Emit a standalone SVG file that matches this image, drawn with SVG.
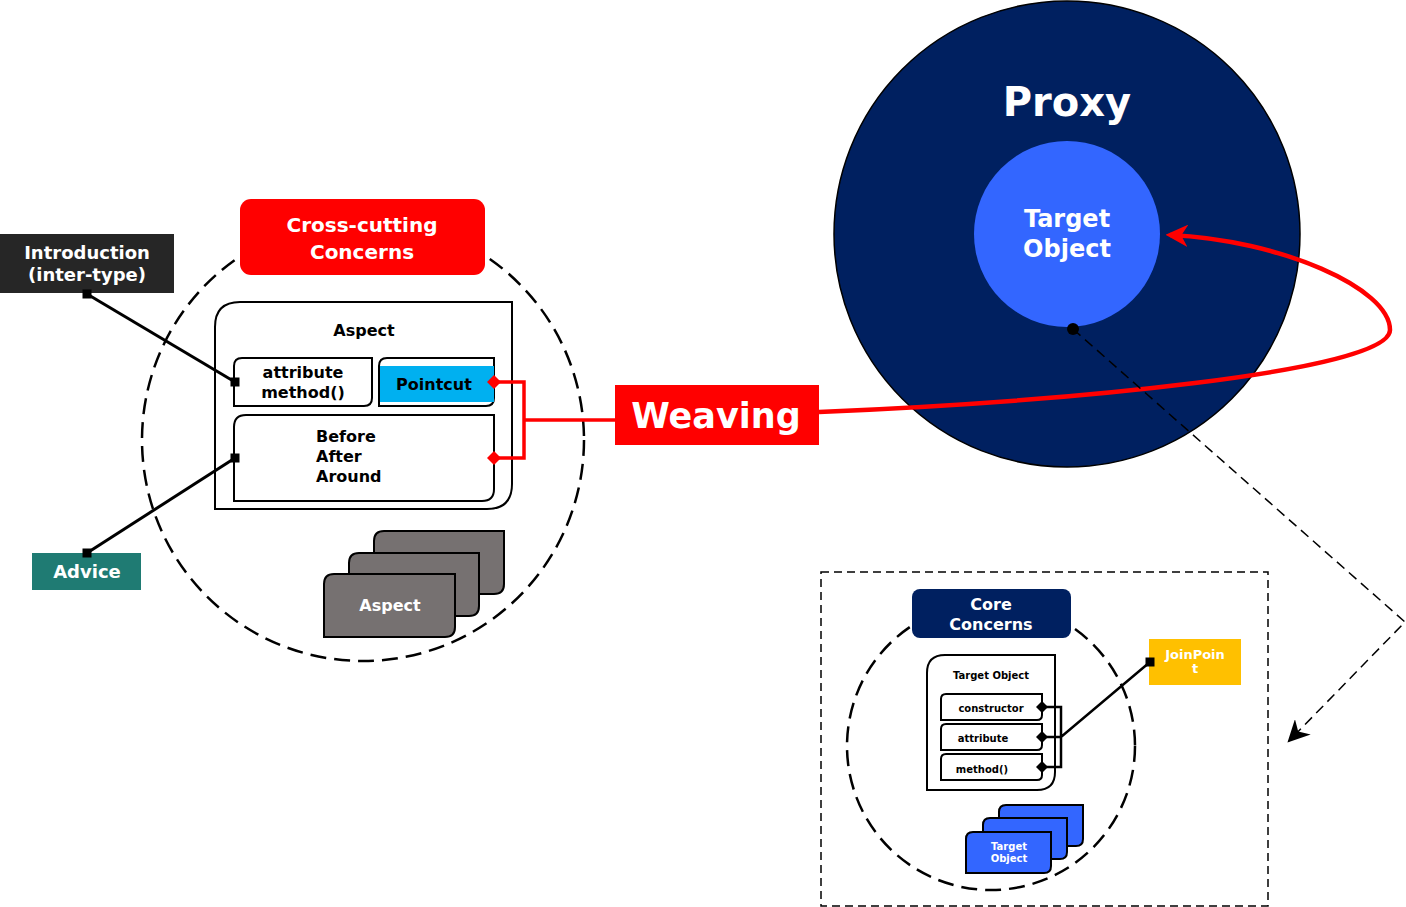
<svg xmlns="http://www.w3.org/2000/svg" width="1406" height="907" viewBox="0 0 1406 907">
<style>
text{font-family:"DejaVu Sans","Liberation Sans",sans-serif;font-weight:bold;text-anchor:middle}
.w{fill:#fff}
.k{fill:#000}
.box{fill:#fff;stroke:#000;stroke-width:2}
.dc{fill:none;stroke:#000;stroke-width:2.5;stroke-dasharray:16 8}
.ln{stroke:#000;stroke-width:3;fill:none}
.red{stroke:#f00;stroke-width:3.5;fill:none}
.grey{fill:#767171;stroke:#000;stroke-width:2}
.blue{fill:#3366ff;stroke:#000;stroke-width:2}
</style>
<defs>
<marker id="ra" viewBox="0 0 10 10" refX="8" refY="5" markerWidth="5" markerHeight="5" orient="auto" markerUnits="strokeWidth"><path d="M0,0 L10,5 L0,10 L3,5 Z" fill="#f00"/></marker>
<marker id="ka" viewBox="0 0 10 10" refX="9" refY="5" markerWidth="22" markerHeight="22" orient="auto" markerUnits="userSpaceOnUse"><path d="M0,0 L10,5 L0,10 L3,5 Z" fill="#000"/></marker>
</defs>

<g id="cross-circle"><circle cx="363" cy="440" r="221" class="dc"/></g>
<g id="core-circle"><circle cx="991" cy="746" r="144" class="dc"/></g>
<g id="core-frame"><rect x="821" y="572" width="447" height="334" fill="none" stroke="#000" stroke-width="1.5" stroke-dasharray="8 5"/></g>

<g id="proxy">
<circle cx="1067" cy="234" r="233" fill="#002060" stroke="#000" stroke-width="1.5"/>
<text x="1067" y="116" class="w" font-size="40">Proxy</text>
</g>
<g id="target-object">
<circle cx="1067" cy="234" r="93" fill="#3366ff"/>
<text x="1067" y="227" class="w" font-size="24">Target</text>
<text x="1067" y="257" class="w" font-size="24">Object</text>
</g>

<g id="cross-cutting">
<rect x="240" y="199" width="245" height="76" rx="11" fill="#f00"/>
<text x="362" y="232" class="w" font-size="20">Cross-cutting</text>
<text x="362" y="259" class="w" font-size="20">Concerns</text>
</g>

<g id="introduction">
<rect x="0" y="234" width="174" height="59" fill="#262626"/>
<text x="87" y="259" class="w" font-size="18">Introduction</text>
<text x="87" y="281" class="w" font-size="18">(inter-type)</text>
</g>

<g id="advice">
<rect x="32" y="553" width="109" height="37" fill="#1f7b73"/>
<text x="87" y="578" class="w" font-size="18">Advice</text>
</g>

<g id="aspect">
<path d="M240,302 H512 V484 Q512,509 487,509 H215 V327 Q215,302 240,302 Z" class="box"/>
<text x="364" y="336" class="k" font-size="16">Aspect</text>
</g>
<g id="attr-method">
<path d="M242,358 H372 V398 Q372,406 364,406 H234 V366 Q234,358 242,358 Z" class="box"/>
<text x="303" y="378" class="k" font-size="16">attribute</text>
<text x="303" y="398" class="k" font-size="16">method()</text>
</g>
<g id="pointcut">
<path d="M387,358 H494 V398 Q494,406 486,406 H379 V366 Q379,358 387,358 Z" class="box"/>
<rect x="380" y="366" width="114" height="36" fill="#00b0f0"/>
<text x="434" y="390" class="k" font-size="16">Pointcut</text>
</g>
<g id="advice-kinds">
<path d="M246,415 H494 V489 Q494,501 482,501 H234 V427 Q234,415 246,415 Z" class="box"/>
<text x="316" y="442" class="k" font-size="16" style="text-anchor:start">Before</text>
<text x="316" y="462" class="k" font-size="16" style="text-anchor:start">After</text>
<text x="316" y="482" class="k" font-size="16" style="text-anchor:start">Around</text>
</g>

<g id="aspect-stack">
<path d="M384,531 H504 V584 Q504,594 494,594 H374 V541 Q374,531 384,531 Z" class="grey"/>
<path d="M359,553 H479 V606 Q479,616 469,616 H349 V563 Q349,553 359,553 Z" class="grey"/>
<path d="M334,574 H455 V627 Q455,637 445,637 H324 V584 Q324,574 334,574 Z" class="grey"/>
<text x="390" y="611" class="w" font-size="16">Aspect</text>
</g>

<g id="weaving">
<rect x="615" y="385" width="204" height="60" fill="#f00"/>
<text x="716" y="428" class="w" font-size="35">Weaving</text>
</g>

<g id="core-concerns">
<rect x="912" y="589" width="159" height="49" rx="8" fill="#002060"/>
<text x="991" y="610" class="w" font-size="16">Core</text>
<text x="991" y="630" class="w" font-size="16">Concerns</text>
</g>

<g id="target-box">
<path d="M945,655 H1055 V772 Q1055,790 1037,790 H927 V673 Q927,655 945,655 Z" class="box"/>
<text x="991" y="679" class="k" font-size="10">Target Object</text>
</g>
<g id="constructor">
<path d="M946,694 H1042 V715 Q1042,720 1037,720 H941 V699 Q941,694 946,694 Z" class="box"/>
<text x="991" y="712" class="k" font-size="10">constructor</text>
</g>
<g id="attribute">
<path d="M946,724 H1042 V745 Q1042,750 1037,750 H941 V729 Q941,724 946,724 Z" class="box"/>
<text x="983" y="742" class="k" font-size="10">attribute</text>
</g>
<g id="method">
<path d="M946,754 H1042 V775 Q1042,780 1037,780 H941 V759 Q941,754 946,754 Z" class="box"/>
<text x="982" y="773" class="k" font-size="10">method()</text>
</g>

<g id="joinpoint">
<rect x="1149" y="639" width="92" height="46" fill="#ffc000"/>
<text x="1195" y="659" class="w" font-size="13">JoinPoin</text>
<text x="1195" y="673" class="w" font-size="13">t</text>
</g>

<g id="target-stack">
<path d="M1006,805 H1083 V839 Q1083,846 1076,846 H999 V812 Q999,805 1006,805 Z" class="blue"/>
<path d="M990,818 H1067 V852 Q1067,859 1060,859 H983 V825 Q983,818 990,818 Z" class="blue"/>
<path d="M973,832 H1051 V866 Q1051,873 1044,873 H966 V839 Q966,832 973,832 Z" class="blue"/>
<text x="1009" y="850" class="w" font-size="10">Target</text>
<text x="1009" y="862" class="w" font-size="10">Object</text>
</g>

<g id="connectors">
<line x1="87" y1="294" x2="235" y2="382" class="ln"/>
<rect x="82.5" y="289.5" width="9" height="9" fill="#000"/>
<rect x="230.5" y="377.5" width="9" height="9" fill="#000"/>
<line x1="87" y1="553" x2="235" y2="458" class="ln"/>
<rect x="82.5" y="548.5" width="9" height="9" fill="#000"/>
<rect x="230.5" y="453.5" width="9" height="9" fill="#000"/>

<path d="M494,382 H524 V458 H494 M524,420 H615" class="red"/>
<path d="M494,375 L501,382 L494,389 L487,382 Z" fill="#f00"/>
<path d="M494,451 L501,458 L494,465 L487,458 Z" fill="#f00"/>

<path d="M819,412 C1060,402 1390,372 1390,330 C1390,288 1280,240 1170,235" stroke="#f00" stroke-width="4.5" fill="none" marker-end="url(#ra)"/>

<circle cx="1073" cy="329" r="6" fill="#000"/>
<path d="M1073,329 L1405,622 L1289,741" fill="none" stroke="#000" stroke-width="1.5" stroke-dasharray="10 6" marker-end="url(#ka)"/>

<path d="M1042,707 H1061 V767 H1042 M1042,737 H1061 L1150,662" fill="none" stroke="#000" stroke-width="2.5"/>
<path d="M1042,701 L1048,707 L1042,713 L1036,707 Z" fill="#000"/>
<path d="M1042,731 L1048,737 L1042,743 L1036,737 Z" fill="#000"/>
<path d="M1042,761 L1048,767 L1042,773 L1036,767 Z" fill="#000"/>
<rect x="1145.5" y="657.5" width="9" height="9" fill="#000"/>
</g>
</svg>
